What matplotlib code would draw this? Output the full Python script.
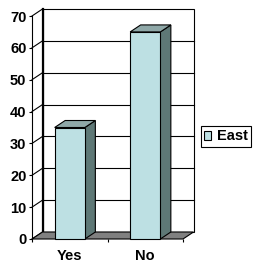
import matplotlib
matplotlib.use("Agg")
import matplotlib.pyplot as plt
from matplotlib.patches import Polygon, Patch

plt.rcParams['font.family'] = ['Liberation Sans', 'DejaVu Sans']

categories = ['Yes', 'No']
series_name = 'East'
east = [35, 65]
yticks = [0, 10, 20, 30, 40, 50, 60, 70]

face_c = '#BDE0E3'
side_c = '#5E7876'
top_c = '#8FA8A8'
floor_c = '#808080'
fs = 10.5

W, H = 254, 263
fig = plt.figure(figsize=(W / 100, H / 100), dpi=100)
ax = fig.add_axes([32 / W, (H - 239) / H, (183 - 32) / W, (239 - 16) / H])
ax.set_xlim(-0.5, len(categories) - 0.5)
ax.set_ylim(0, 70)

# depth offset (data units)
dx = 10.5 / 75.5
dy = 7 / (223 / 70)
x0, x1 = -0.5, len(categories) - 0.5
ymax = yticks[-1]

# back wall
ax.add_patch(Polygon([(x0 + dx, dy), (x1 + dx, dy), (x1 + dx, ymax + dy), (x0 + dx, ymax + dy)],
                     closed=True, facecolor='white', edgecolor='black', lw=0.8, clip_on=False, zorder=1))
for v in yticks[1:-1]:
    ax.plot([x0 + dx, x1 + dx], [v + dy, v + dy], color='black', lw=0.8, clip_on=False, zorder=1)
ax.plot([x0 + dx, x0 + dx], [dy, ymax + dy], color='black', lw=1.6, clip_on=False, zorder=2)
# side wall edges
for v in yticks:
    ax.plot([x0, x0 + dx], [v, v + dy], color='black', lw=0.8, clip_on=False, zorder=2)

# floor
ax.add_patch(Polygon([(x0, 0), (x1, 0), (x1 + dx, dy), (x0 + dx, dy)], closed=True,
                     facecolor=floor_c, edgecolor='black', lw=0.8, clip_on=False, zorder=3))

# bars
bw = 0.4
for i, v in enumerate(east):
    l, r = i - bw / 2, i + bw / 2
    ax.add_patch(Polygon([(r, 0), (r + dx, dy), (r + dx, v + dy), (r, v)], closed=True,
                         facecolor=side_c, edgecolor='black', lw=0.8, clip_on=False, zorder=4))
    ax.add_patch(Polygon([(l, v), (r, v), (r + dx, v + dy), (l + dx, v + dy)], closed=True,
                         facecolor=top_c, edgecolor='black', lw=0.8, clip_on=False, zorder=4))
    ax.add_patch(Polygon([(l, 0), (r, 0), (r, v), (l, v)], closed=True,
                         facecolor=face_c, edgecolor='black', lw=0.8, clip_on=False, zorder=5))

for s in ['top', 'right', 'bottom']:
    ax.spines[s].set_visible(False)
ax.spines['left'].set_linewidth(0.8)
ax.patch.set_visible(False)

ax.set_yticks(yticks)
ax.set_yticklabels([str(t) for t in yticks], fontsize=fs, fontweight='bold')
ax.tick_params(axis='y', length=2.5, width=0.8, pad=1.5)
ax.set_xticks(range(len(categories)))
ax.set_xticklabels(categories, fontsize=fs, fontweight='bold')
ax.set_xticks([k - 0.5 for k in range(len(categories) + 1)], minor=True)
ax.tick_params(axis='x', which='major', length=0, pad=7)
ax.tick_params(axis='x', which='minor', length=2.5, width=0.8)

leg = ax.legend(handles=[Patch(facecolor=face_c, edgecolor='black', lw=0.8, label=series_name)],
                loc='center left', bbox_to_anchor=(200.5 / W, 1 - 136.5 / H),
                bbox_transform=fig.transFigure, fancybox=False, framealpha=1,
                edgecolor='black', prop={'size': fs, 'weight': 'bold'},
                handlelength=0.5, handleheight=0.55, handletextpad=0.35,
                borderpad=0.25, borderaxespad=0)
leg.get_frame().set_linewidth(0.8)

fig.savefig('out.png', dpi=100)
